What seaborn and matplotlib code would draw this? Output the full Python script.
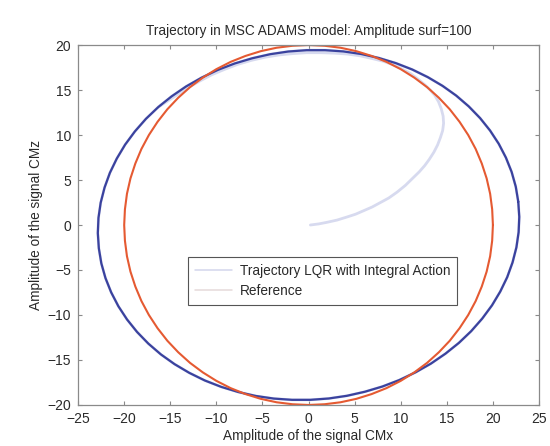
import matplotlib
matplotlib.use("Agg")
import matplotlib.pyplot as plt
from matplotlib.lines import Line2D
import seaborn as sns
import pandas as pd

# Reference signal (circle of amplitude 20), one sample every 5 degrees
ref_x = [20.00, 19.92, 19.70, 19.32, 18.79, 18.13, 17.32, 16.38, 15.32, 14.14,
         12.86, 11.47, 10.00, 8.45, 6.84, 5.18, 3.47, 1.74, 0.00,
         -1.74, -3.47, -5.18, -6.84, -8.45, -10.00, -11.47, -12.86, -14.14,
         -15.32, -16.38, -17.32, -18.13, -18.79, -19.32, -19.70, -19.92, -20.00,
         -19.92, -19.70, -19.32, -18.79, -18.13, -17.32, -16.38, -15.32, -14.14,
         -12.86, -11.47, -10.00, -8.45, -6.84, -5.18, -3.47, -1.74, 0.00,
         1.74, 3.47, 5.18, 6.84, 8.45, 10.00, 11.47, 12.86, 14.14,
         15.32, 16.38, 17.32, 18.13, 18.79, 19.32, 19.70, 19.92, 20.00]
ref_y = [0.00, 1.74, 3.47, 5.18, 6.84, 8.45, 10.00, 11.47, 12.86, 14.14,
         15.32, 16.38, 17.32, 18.13, 18.79, 19.32, 19.70, 19.92, 20.00,
         19.92, 19.70, 19.32, 18.79, 18.13, 17.32, 16.38, 15.32, 14.14,
         12.86, 11.47, 10.00, 8.45, 6.84, 5.18, 3.47, 1.74, 0.00,
         -1.74, -3.47, -5.18, -6.84, -8.45, -10.00, -11.47, -12.86, -14.14,
         -15.32, -16.38, -17.32, -18.13, -18.79, -19.32, -19.70, -19.92, -20.00,
         -19.92, -19.70, -19.32, -18.79, -18.13, -17.32, -16.38, -15.32, -14.14,
         -12.86, -11.47, -10.00, -8.45, -6.84, -5.18, -3.47, -1.74, 0.00]

# Steady-state orbit of the LQR trajectory
orbit_x = [22.75, 22.48, 22.03, 21.41, 20.63, 19.69, 18.61, 17.38, 16.02, 14.54,
           12.94, 11.25, 9.47, 7.63, 5.72, 3.77, 1.79, -0.20, -2.20, -4.17,
           -6.11, -8.01, -9.85, -11.61, -13.28, -14.85, -16.31, -17.64, -18.84,
           -19.90, -20.80, -21.55, -22.13, -22.55, -22.79, -22.86, -22.75,
           -22.48, -22.03, -21.41, -20.63, -19.69, -18.61, -17.38, -16.02, -14.54,
           -12.94, -11.25, -9.47, -7.63, -5.72, -3.77, -1.79, 0.20, 2.20, 4.17,
           6.11, 8.01, 9.85, 11.61, 13.28, 14.85, 16.31, 17.64, 18.84,
           19.90, 20.80, 21.55, 22.13, 22.55, 22.79, 22.86, 22.75]
orbit_y = [2.59, 4.26, 5.90, 7.49, 9.03, 10.50, 11.88, 13.18, 14.38, 15.46,
           16.43, 17.28, 17.99, 18.56, 19.00, 19.29, 19.43, 19.43, 19.28, 18.98,
           18.53, 17.95, 17.23, 16.37, 15.40, 14.30, 13.10, 11.80, 10.40,
           8.93, 7.39, 5.80, 4.16, 2.48, 0.79, -0.90, -2.59,
           -4.26, -5.90, -7.49, -9.03, -10.50, -11.88, -13.18, -14.38, -15.46,
           -16.43, -17.28, -17.99, -18.56, -19.00, -19.29, -19.43, -19.43, -19.28,
           -18.98, -18.53, -17.95, -17.23, -16.37, -15.40, -14.30, -13.10, -11.80,
           -10.40, -8.93, -7.39, -5.80, -4.16, -2.48, -0.79, 0.90, 2.59]

# Transient part of the trajectory, starting from the origin
start_x = [0.2, 1.1, 2.0, 3.1, 4.2, 5.1, 6.0, 6.9, 7.8, 8.7, 9.6, 10.5, 11.3,
           12.0, 12.6, 13.1, 13.6, 14.0, 14.3, 14.55, 14.65, 14.6, 14.4, 14.1,
           13.7, 13.2, 12.6, 11.9, 11.1, 10.2, 9.2, 8.1, 6.9, 5.6, 4.2, 2.8,
           1.3, -0.2, -1.7, -3.2, -4.7, -6.2, -7.7, -9.1, -10.5, -11.8, -13.0,
           -14.2]
start_y = [0.0, 0.12, 0.3, 0.55, 0.9, 1.2, 1.6, 2.0, 2.5, 3.0, 3.65, 4.4, 5.2,
           5.9, 6.6, 7.3, 8.1, 8.9, 9.7, 10.5, 11.3, 12.1, 12.9, 13.7,
           14.4, 15.0, 15.6, 16.2, 16.8, 17.3, 17.8, 18.2, 18.5, 18.8, 19.0, 19.1,
           19.15, 19.15, 19.05, 18.9, 18.65, 18.3, 17.85, 17.3, 16.7, 16.0, 15.3,
           14.5]

legend_labels = ["Trajectory LQR with Integral Action", "Reference"]
x_ticks = [-25, -20, -15, -10, -5, 0, 5, 10, 15, 20, 25]
y_ticks = [-20, -15, -10, -5, 0, 5, 10, 15, 20]

sns.set_style("ticks")
plt.rcParams["font.family"] = ["Liberation Sans", "DejaVu Sans"]
plt.rcParams["axes.edgecolor"] = "#8a8a8a"
plt.rcParams["axes.linewidth"] = 0.9

# trajectory: transient, then one full lap on the orbit
traj = pd.DataFrame({
    "x": start_x + orbit_x[26:] + orbit_x[1:27],
    "y": start_y + orbit_y[26:] + orbit_y[1:27],
})
orbit = pd.DataFrame({"x": orbit_x, "y": orbit_y})
ref = pd.DataFrame({"x": ref_x, "y": ref_y})

fig = plt.figure(figsize=(5.5, 4.46), dpi=100)
ax = fig.add_axes([0.142, 0.092, 0.838, 0.807])

sns.lineplot(data=traj, x="x", y="y", sort=False, estimator=None,
             color="#d7daef", lw=2.0, ax=ax)
sns.lineplot(data=orbit, x="x", y="y", sort=False, estimator=None,
             color="#3a429e", lw=1.6, ax=ax)
sns.lineplot(data=ref, x="x", y="y", sort=False, estimator=None,
             color="#e55a32", lw=1.5, ax=ax)

ax.set_xlim(-25, 25)
ax.set_ylim(-20, 20)
ax.set_xticks(x_ticks)
ax.set_yticks(y_ticks)
ax.tick_params(direction="in", top=True, right=True, length=3, width=0.8,
               color="#8a8a8a", labelcolor="#2a2a2a", labelsize=10, pad=5)

ax.set_title("Trajectory in MSC ADAMS model: Amplitude surf=100",
             fontsize=9.8, color="#2a2a2a", pad=7)
ax.set_xlabel("Amplitude of the signal CMx", fontsize=9.8, color="#2a2a2a", labelpad=2)
ax.set_ylabel("Amplitude of the signal CMz", fontsize=9.8, color="#2a2a2a", labelpad=3)

handles = [Line2D([], [], color="#d3d6ec", lw=1.1),
           Line2D([], [], color="#e6dada", lw=1.1)]
leg = ax.legend(handles, legend_labels, loc="upper left",
                bbox_to_anchor=(0.239, 0.411), borderaxespad=0,
                fontsize=9.8, frameon=True, fancybox=False, framealpha=1,
                edgecolor="#555555", handlelength=2.7, handletextpad=0.6,
                borderpad=0.5, labelspacing=0.45)
leg.get_frame().set_linewidth(0.8)
for t in leg.get_texts():
    t.set_color("#2a2a2a")

fig.savefig("out.png", dpi=100)
